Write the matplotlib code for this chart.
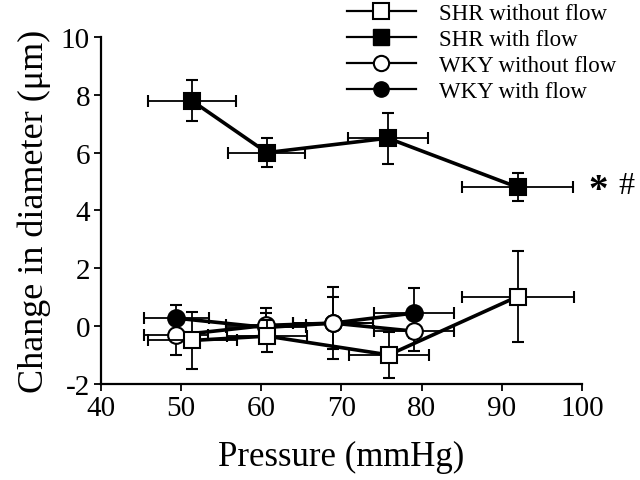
import matplotlib
matplotlib.use("Agg")
import matplotlib.pyplot as plt
from matplotlib.lines import Line2D

plt.rcParams['font.family'] = ['Liberation Serif', 'DejaVu Serif']
plt.rcParams['axes.unicode_minus'] = False

# SHR with flow
shr_flow_x = [51.3, 60.7, 75.8, 92.0]
shr_flow_y = [7.8, 6.0, 6.5, 4.8]
shr_flow_yerr = [0.7, 0.5, 0.88, 0.48]
shr_flow_xerr = [5.5, 4.8, 5.0, 6.9]

# SHR without flow
shr_noflow_x = [51.4, 60.7, 75.9, 92.0]
shr_noflow_y = [-0.5, -0.35, -1.0, 1.02]
shr_noflow_yerr = [1.0, 0.55, 0.8, 1.57]
shr_noflow_xerr = [5.5, 5.0, 5.0, 7.0]

# WKY without flow
wky_noflow_x = [49.4, 60.6, 68.9, 79.1]
wky_noflow_y = [-0.32, 0.02, 0.1, -0.18]
wky_noflow_yerr = [0.68, 0.6, 0.9, 0.67]
wky_noflow_xerr = [4.0, 5.0, 5.0, 5.0]

# WKY with flow
wky_flow_x = [49.4, 60.6, 68.9, 79.1]
wky_flow_y = [0.27, -0.05, 0.1, 0.45]
wky_flow_yerr = [0.44, 0.5, 1.25, 0.86]
wky_flow_xerr = [4.1, 5.0, 5.0, 5.0]

labels = ["SHR without flow", "SHR with flow", "WKY without flow", "WKY with flow"]

fig = plt.figure(figsize=(6.4, 4.81), dpi=100)
ax = fig.add_axes([0.158, 0.2, 0.751, 0.721])

common = dict(color="black", lw=2.6, elinewidth=1.3, capsize=4.5, capthick=1.3,
              markeredgecolor="black", markeredgewidth=1.5)

ax.errorbar(wky_flow_x, wky_flow_y, yerr=wky_flow_yerr, xerr=wky_flow_xerr,
            marker="o", ms=12, mfc="black", zorder=3, **common)
ax.errorbar(wky_noflow_x, wky_noflow_y, yerr=wky_noflow_yerr, xerr=wky_noflow_xerr,
            marker="o", ms=12, mfc="white", zorder=4, **common)
ax.errorbar(shr_noflow_x, shr_noflow_y, yerr=shr_noflow_yerr, xerr=shr_noflow_xerr,
            marker="s", ms=12, mfc="white", zorder=5, **common)
ax.errorbar(shr_flow_x, shr_flow_y, yerr=shr_flow_yerr, xerr=shr_flow_xerr,
            marker="s", ms=12, mfc="black", zorder=6, **common)

# significance marks
ax.text(102.1, 4.7, "*", fontsize=28, fontweight="bold", ha="center", va="center")
ax.text(105.6, 4.85, "#", fontsize=23, ha="center", va="center")

ax.set_xlim(40, 100)
ax.set_ylim(-2, 10)
ax.set_xticks(range(40, 101, 10))
ax.set_yticks(range(-2, 11, 2))
ax.spines["top"].set_visible(False)
ax.spines["right"].set_visible(False)
for s in ["left", "bottom"]:
    ax.spines[s].set_linewidth(1.6)
ax.tick_params(direction="out", length=5, width=1.3, labelsize=21, pad=3)
ax.set_xlabel("Pressure (mmHg)", fontsize=25, labelpad=14)
ax.set_ylabel("Change in diameter (μm)", fontsize=26, labelpad=7)

handles = [
    Line2D([], [], color="black", lw=1.6, marker="s", ms=11, mfc="white", mec="black", mew=1.5),
    Line2D([], [], color="black", lw=1.6, marker="s", ms=11, mfc="black", mec="black"),
    Line2D([], [], color="black", lw=1.6, marker="o", ms=11, mfc="white", mec="black", mew=1.5),
    Line2D([], [], color="black", lw=1.6, marker="o", ms=11, mfc="black", mec="black"),
]
fig.legend(handles, labels, loc="upper left", bbox_to_anchor=(0.51, 1.035),
           frameon=False, fontsize=16.5, handlelength=3.0, handletextpad=1.0,
           labelspacing=0.22)

fig.savefig("out.png", dpi=100)
